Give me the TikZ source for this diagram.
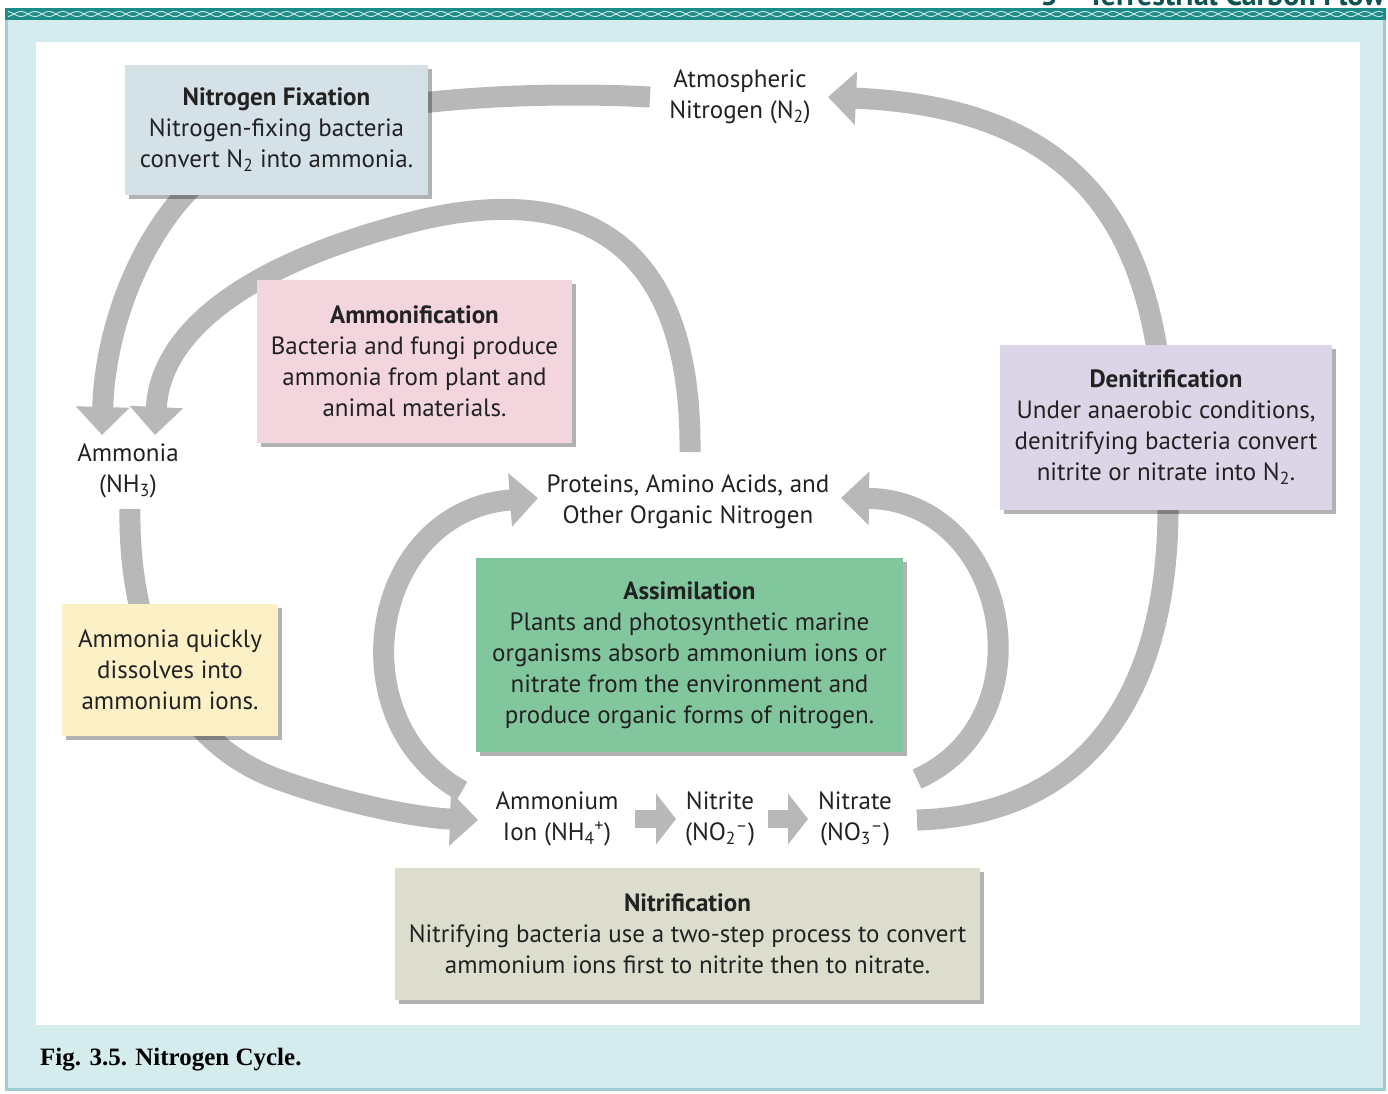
\documentclass[tikz,border=0pt]{standalone}
\usepackage{fontspec}
\setmainfont{PT Sans}
\newfontfamily\capfont{Liberation Serif}
\usetikzlibrary{arrows.meta,shadows,calc}
\definecolor{frameteal}{RGB}{213,236,238}
\definecolor{bandteal}{RGB}{27,140,135}
\definecolor{edgeteal}{RGB}{160,206,208}
\definecolor{arrgray}{RGB}{184,184,184}
\definecolor{txt}{RGB}{34,34,34}
\definecolor{cfix}{RGB}{212,225,231}
\definecolor{camm}{RGB}{242,213,221}
\definecolor{cden}{RGB}{219,213,231}
\definecolor{cyel}{RGB}{251,240,198}
\definecolor{cass}{RGB}{130,198,158}
\definecolor{cnit}{RGB}{220,221,205}
\pgfdeclarelayer{back}
\pgfdeclarelayer{arr}
\pgfsetlayers{back,arr,main}
\begin{document}
\begin{tikzpicture}[x=1pt,y=-1pt,
  font=\fontsize{25}{31}\selectfont, text=txt,
  box/.style={inner sep=0pt, align=center,
    drop shadow={shadow xshift=4pt, shadow yshift=-4pt, fill=black, opacity=0.3}},
  lbl/.style={inner sep=0pt, align=center},
  flow/.style={line width=21pt, draw=arrgray, -{Triangle[length=28pt,width=52pt]}},
  smallarr/.style={line width=18pt, draw=arrgray, -{Triangle[length=20pt,width=50pt]}}]
\useasboundingbox (0,0) rectangle (1388,1093);
% frame
\begin{pgfonlayer}{back}
  \fill[frameteal] (5,20) rectangle (1386,1091);
  \draw[edgeteal, line width=3pt] (6.5,20) -- (6.5,1089.5) -- (1384.5,1089.5) -- (1384.5,20);
  \fill[bandteal] (5,8) rectangle (1386,20);
  \draw[white!80!bandteal, line width=0.9pt] plot[domain=8:1383, samples=400] (\x,{14+2.6*sin(mod(\x,28)*12.857)});
  \draw[white!80!bandteal, line width=0.9pt] plot[domain=8:1383, samples=400] (\x,{14-2.6*sin(mod(\x,28)*12.857)});
  \begin{scope}
    \clip (0,0) rectangle (1388,8);
    \node[anchor=base east, inner sep=0pt, text=bandteal!60!black,
      font=\fontsize{30}{34}\selectfont\bfseries] (hdr) at (1385,5) {3\quad Terrestrial Carbon Flow};
  \end{scope}
  \fill[white] (36,42) rectangle (1360,1025);
\end{pgfonlayer}
\node[anchor=base west, inner sep=0pt, text=black, font=\capfont\fontsize{25}{29}\selectfont\bfseries] (cap) at (40,1065) {Fig. 3.5. Nitrogen Cycle.};

% boxes
\node[box, fill=cfix, minimum width=303pt, minimum height=130pt] (fix) at (276.5,130)
  {\textbf{Nitrogen Fixation}\\Nitrogen-fixing bacteria\\convert N\textsubscript{2} into ammonia.};
\node[box, fill=camm, minimum width=315pt, minimum height=163pt] (amm) at (414.5,361.5)
  {\textbf{Ammonification}\\Bacteria and fungi produce\\ammonia from plant and\\animal materials.};
\node[box, fill=cden, minimum width=332pt, minimum height=165pt] (den) at (1166,427.5)
  {\textbf{Denitrification}\\Under anaerobic conditions,\\denitrifying bacteria convert\\nitrite or nitrate into N\textsubscript{2}.};
\node[box, fill=cyel, minimum width=216pt, minimum height=132pt] (yel) at (170,670)
  {Ammonia quickly\\dissolves into\\ammonium ions.};
\node[box, fill=cass, minimum width=427pt, minimum height=194pt] (ass) at (689.5,655)
  {\textbf{Assimilation}\\Plants and photosynthetic marine\\organisms absorb ammonium ions or\\nitrate from the environment and\\produce organic forms of nitrogen.};
\node[box, fill=cnit, minimum width=585pt, minimum height=132pt] (nit) at (687.5,934)
  {\textbf{Nitrification}\\Nitrifying bacteria use a two-step process to convert\\ammonium ions first to nitrite then to nitrate.};

% labels
\node[lbl] (atm) at (740,97) {Atmospheric\\Nitrogen (N\textsubscript{2})};
\node[lbl] (nh3) at (128,471) {Ammonia\\(NH\textsubscript{3})};
\node[lbl] (prot) at (688,502) {Proteins, Amino Acids, and\\Other Organic Nitrogen};
\node[lbl] (nh4) at (557,819) {Ammonium\\Ion (NH\textsubscript{4}\textsuperscript{+})};
\node[lbl] (no2) at (720,819) {Nitrite\\(NO\textsubscript{2}\textsuperscript{–})};
\node[lbl] (no3) at (855,819) {Nitrate\\(NO\textsubscript{3}\textsuperscript{–})};

% connector end points
\coordinate (aS) at ($(atm.center)+(-90,0)$);
\coordinate (aT) at ($(nh3.center)+(-26,-36)$);
\coordinate (bS) at ($(prot.center)+(2,-50)$);
\coordinate (bT) at ($(nh3.center)+(27,-36)$);
\coordinate (cS) at ($(nh3.center)+(2,38)$);
\coordinate (cT) at ($(nh4.center)+(-79,1)$);
\coordinate (dS) at ($(nh4.center)+(-95,-28)$);
\coordinate (dT) at ($(prot.center)+(-150,-4)$);
\coordinate (eS) at ($(no3.center)+(62,-40)$);
\coordinate (eT) at ($(prot.center)+(153,-4)$);
\coordinate (fS) at ($(no3.center)+(62,1)$);
\coordinate (fT) at ($(atm.center)+(88,0)$);

\begin{pgfonlayer}{arr}
  \draw[flow] (aS) .. controls (520,90) and (330,100) .. (240,150)
                   .. controls (150,200) and (105,320) .. (aT);
  \draw[flow] (bS) .. controls (692,230) and (570,185) .. (420,220)
                   .. controls (250,262) and (160,330) .. (bT);
  \draw[flow] (cS) .. controls (128,640) and (180,745) .. (280,780)
                   .. controls (350,805) and (420,818) .. (cT);
  \draw[flow] (dS) .. controls (335,720) and (370,510) .. (dT);
  \draw[flow] (eS) .. controls (1050,720) and (1010,500) .. (eT);
  \draw[flow] (fS) .. controls (1090,815) and (1170,690) .. (1168,500)
                   .. controls (1165,300) and (1140,110) .. (fT);
  \draw[smallarr] ($(nh4.center)+(78,0)$) -- ($(no2.center)+(-44,0)$);
  \draw[smallarr] ($(no2.center)+(48,0)$) -- ($(no3.center)+(-47,0)$);
\end{pgfonlayer}
\end{tikzpicture}
\end{document}
